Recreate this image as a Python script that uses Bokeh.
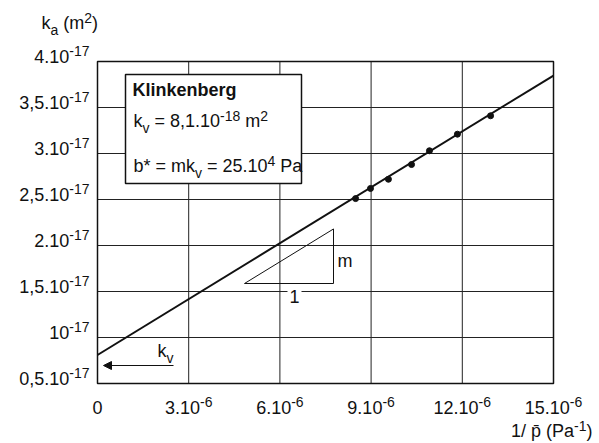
from bokeh.plotting import figure
from bokeh.models import Label, Arrow, NormalHead, Range1d
from bokeh.embed import file_html
from bokeh.resources import INLINE

# ---- data (x in 1e-6 Pa^-1, y in 1e-17 m^2) ----
inv_p = [8.49, 8.98, 9.57, 10.33, 10.92, 11.84, 12.93]
k_a = [2.51, 2.62, 2.72, 2.88, 3.03, 3.21, 3.41]
k_v = 0.81          # 8,1.10^-18 m2  -> 0.81 x 1e-17
b_star = 25e4       # Pa
x_ticks = [0, 3, 6, 9, 12, 15]
x_tick_base = ["0", "3.10", "6.10", "9.10", "12.10", "15.10"]
x_tick_exp = ["", "-6", "-6", "-6", "-6", "-6"]
y_ticks = [0.5, 1, 1.5, 2, 2.5, 3, 3.5, 4]
y_tick_base = ["0,5.10", "10", "1,5.10", "2.10", "2,5.10", "3.10", "3,5.10", "4.10"]
y_tick_exp = ["-17"] * 8

FONT = "Liberation Sans"
INK = "#111111"
BASE = 18
SMALL = 14
RAISE = 7
LOWER = 5

CW, CH = 599, 443
# plot box in canvas pixels
FL, FR, FT, FB = 97, 553, 61, 383
X0, X1, Y0, Y1 = 0.0, 15.0, 0.5, 4.0


def X(px):
    return X0 + (px - FL) / (FR - FL) * (X1 - X0)


def Y(py):
    return Y0 + (FB - py) / (FB - FT) * (Y1 - Y0)


W = {str(d): 0.556 for d in range(10)}
W.update({'.': .278, ',': .278, '-': .333, ' ': .278, '=': .584, 'k': .5, 'v': .5,
          'a': .556, 'm': .833, '(': .333, ')': .333, 'b': .556, '*': .389,
          'P': .667, '/': .278, 'p': .556, '\u0304': 0.0})


def tw(t, fs):
    return sum(W.get(c, 0.556) for c in t) * fs


p = figure(width=CW, height=CH, output_backend="svg", toolbar_location=None,
           x_range=Range1d(X(0), X(CW)), y_range=Range1d(Y(CH), Y(0)),
           min_border=0, min_border_left=0, min_border_right=0,
           min_border_top=0, min_border_bottom=0)
p.title.visible = False
p.xaxis.visible = False
p.yaxis.visible = False
p.xgrid.visible = False
p.ygrid.visible = False
p.outline_line_color = None
p.background_fill_color = "white"
p.border_fill_color = "white"

# grid lines at tick values
p.segment(x0=x_ticks, y0=[Y0] * len(x_ticks), x1=x_ticks, y1=[Y1] * len(x_ticks),
          line_color="#222222", line_width=1)
p.segment(x0=[X0] * len(y_ticks), y0=y_ticks, x1=[X1] * len(y_ticks), y1=y_ticks,
          line_color="#222222", line_width=1)
# plot frame
p.quad(left=[X0], right=[X1], bottom=[Y0], top=[Y1], fill_color=None,
       line_color="#111111", line_width=1.5)


def rich(xd, yd, segs, dx=0, dy=0, align="left", size=BASE, bold=False, bg=None):
    ws = [tw(t, size if r == "n" else SMALL) for t, r in segs]
    total = sum(ws)
    if align == "left":
        cur = dx
    elif align == "right":
        cur = dx - total
    else:
        cur = dx - total / 2
    for (t, r), w in zip(segs, ws):
        if not t:
            continue
        fs = size if r == "n" else SMALL
        stripped = t.lstrip(" ")
        lead = tw(t[:len(t) - len(stripped)], fs)
        off = dy + (RAISE if r == "sup" else (-LOWER if r == "sub" else 0)) + 0.35 * fs
        kw = {}
        if bg:
            kw = dict(background_fill_color=bg, padding=2)
        p.add_layout(Label(x=xd, y=yd, x_offset=cur + lead, y_offset=off, text=stripped,
                           text_font=FONT, text_font_size=f"{fs}px",
                           text_align="left", text_baseline="middle",
                           text_font_style="bold" if bold else "normal",
                           text_color=INK, **kw))
        cur += w


# legend box (drawn over the grid)
p.quad(left=[X(125)], right=[X(301)], top=[Y(74)], bottom=[Y(183)],
       fill_color="white", line_color="#111111", line_width=1.5)

# fit line k_a = k_v (1 + b*/p)
x_fit = [X0, X1]
y_fit = [k_v * (1 + b_star * x * 1e-6) for x in x_fit]
p.line(x_fit, y_fit, line_color="#111111", line_width=2)
p.scatter(inv_p, k_a, size=6, marker="circle", fill_color="#111111", line_color="#111111")

# slope triangle
slope = k_v * b_star * 1e-6
tx0, tx1, ty0 = X(244), X(333), Y(283)
p.patch([tx0, tx1, tx1], [ty0, ty0, ty0 + slope * (tx1 - tx0)],
        fill_alpha=0, line_color="#111111", line_width=1)
rich(X(337), Y(267), [("m", "n")])
rich(X(292), Y(302), [("1", "n")], align="center", bg="white")

# k_v arrow
p.add_layout(Arrow(end=NormalHead(size=8, fill_color="#111111", line_color="#111111", line_width=1),
                   x_start=X(173), y_start=Y(365), x_end=X(103), y_end=Y(365),
                   line_color="#111111", line_width=1))
rich(X(157), Y(357), [("k", "n"), ("v", "sub")])

# legend texts
rich(X(132), Y(96), [("Klinkenberg", "n")], bold=True)
rich(X(133), Y(127), [("k", "n"), ("v", "sub"), (" = 8,1.10", "n"), ("-18", "sup"), (" m", "n"), ("2", "sup")])
rich(X(133), Y(172), [("b* = mk", "n"), ("v", "sub"), (" = 25.10", "n"), ("4", "sup"), (" Pa", "n")])

# tick labels
for v, b, e in zip(y_ticks, y_tick_base, y_tick_exp):
    rich(X0, v, [(b, "n"), (e, "sup")], dx=-8, dy=-1, align="right")
for v, b, e in zip(x_ticks, x_tick_base, x_tick_exp):
    rich(v, Y0, [(b, "n"), (e, "sup")], dx=0, dy=-(413 - FB), align="center")

# axis titles
rich(X(29), Y(29), [("k", "n"), ("a", "sub"), (" (m", "n"), ("2", "sup"), (")", "n")], dx=12)
rich(X(592), Y(437), [("1/ p\u0304 (Pa", "n"), ("-1", "sup"), (")", "n")], align="right")

open("out.html", "w").write(file_html(p, INLINE))
